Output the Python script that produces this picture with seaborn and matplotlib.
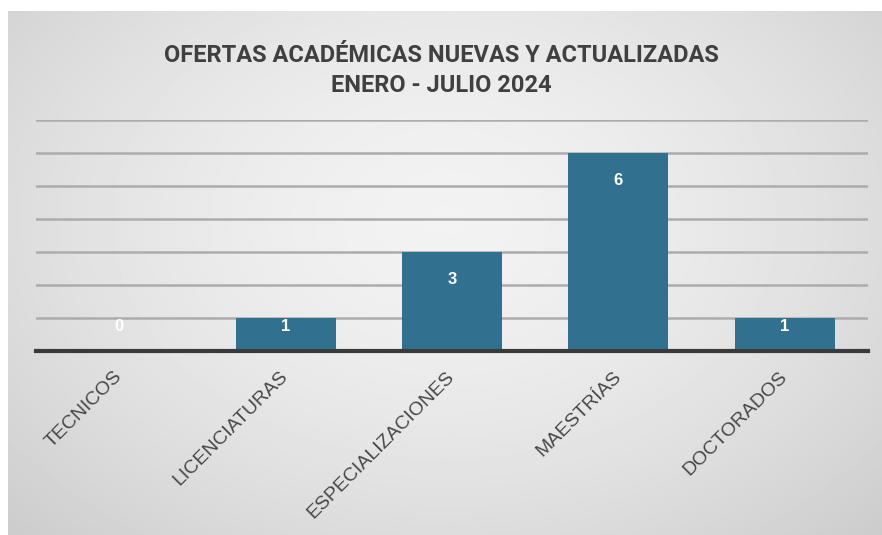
import numpy as np
import matplotlib
matplotlib.use("Agg")
import matplotlib.pyplot as plt
import seaborn as sns

categories = ["TECNICOS", "LICENCIATURAS", "ESPECIALIZACIONES", "MAESTRÍAS", "DOCTORADOS"]
values = [0, 1, 3, 6, 1]
title_lines = ["OFERTAS ACADÉMICAS NUEVAS Y ACTUALIZADAS", "ENERO - JULIO 2024"]

sns.set_style("white")
plt.rcParams['font.family'] = ['Liberation Sans', 'DejaVu Sans']

fig = plt.figure(figsize=(8.82, 5.35), dpi=100)
fig.patch.set_facecolor("white")

# gradient background of the chart area
bg = fig.add_axes([8 / 882, 0, 874 / 882, 524 / 535])
yy, xx = np.mgrid[0:1:300j, 0:1:500j]
r = np.sqrt(((xx - 0.5) / 0.5) ** 2 + ((yy - 0.4) / 0.6) ** 2) / np.sqrt(2)
shade = 0.95 - 0.15 * np.clip(r, 0, 1) ** 1.6
bg.imshow(shade, cmap="gray", vmin=0, vmax=1, aspect="auto", extent=[0, 1, 1, 0])
bg.set_axis_off()

ax = fig.add_axes([36 / 882, 184 / 535, 832 / 882, 231 / 535])
ax.patch.set_alpha(0)
sns.barplot(x=categories, y=values, color="#31718f", width=0.6, saturation=1,
            linewidth=0, ax=ax)

ax.set_ylim(0, 7)
ax.set_yticks(range(1, 8))
ax.yaxis.grid(True, color="#acacac", linewidth=1.8)
ax.set_axisbelow(True)
ax.tick_params(axis="y", left=False, labelleft=False)
ax.tick_params(axis="x", bottom=False, pad=13)
for s in ["top", "left", "right"]:
    ax.spines[s].set_visible(False)
ax.spines["bottom"].set_color("#3a3a3a")
ax.spines["bottom"].set_linewidth(3)
ax.set_xlabel("")
ax.set_ylabel("")

for lab in ax.get_xticklabels():
    lab.set_rotation(45)
    lab.set_ha("right")
    lab.set_va("center")
    lab.set_rotation_mode("anchor")
    lab.set_fontsize(14)
    lab.set_color("#474747")

for i, v in enumerate(values):
    y = v - 0.82 if v >= 2 else 0.73
    ax.text(i, y, str(v), ha="center", va="center", color="white",
            fontsize=12, fontweight="bold")

title_font = ["Roboto", "Liberation Sans"]
fig.text(0.5, 1 - 56 / 535, title_lines[0], ha="center", va="center",
         fontsize=17, fontweight="bold", color="#404040", family=title_font)
fig.text(0.5, 1 - 86 / 535, title_lines[1], ha="center", va="center",
         fontsize=17, fontweight="bold", color="#404040", family=title_font)

fig.savefig("out.png", dpi=100)
